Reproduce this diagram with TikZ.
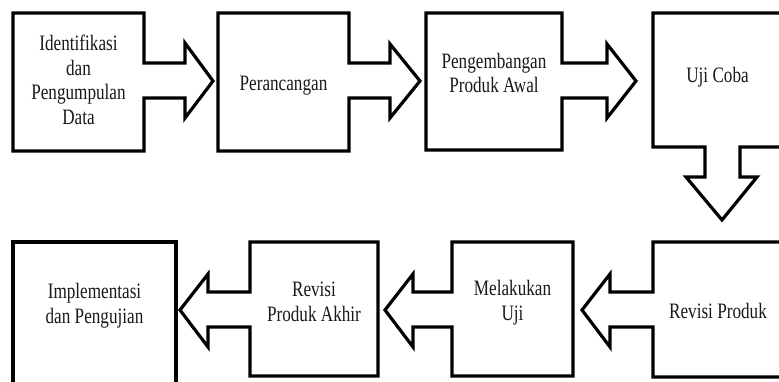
\documentclass[tikz,border=0pt]{standalone}
\usepackage{fontspec}
\newfontfamily\boxfont[FakeStretch=0.78]{Liberation Serif}
\begin{document}
\begin{tikzpicture}[x=1pt,y=-1pt,
  shapeline/.style={draw=black, line width=3.2pt, line join=miter, fill=white},
  boxlabel/.style={align=center, font=\boxfont\fontsize{22}{24.5}\selectfont, text=black!90, inner sep=0pt}]
\useasboundingbox (0,0) rectangle (779,382);
\clip (0,0) rectangle (779,382);
% top row
\draw[shapeline] (13,13) -- (144,13) -- (144,63) -- (185,63) -- (185,43) -- (213,81)
  -- (185,118) -- (185,98) -- (144,98) -- (144,151) -- (13,151) -- cycle;
\draw[shapeline] (218,13) -- (349,13) -- (349,63) -- (390,63) -- (390,44) -- (420,81)
  -- (390,118) -- (390,98) -- (349,98) -- (349,151) -- (218,151) -- cycle;
\draw[shapeline] (426,13) -- (562,13) -- (562,63) -- (607,63) -- (607,44) -- (636,81)
  -- (607,118) -- (607,98) -- (562,98) -- (562,150) -- (426,150) -- cycle;
\draw[shapeline] (653,13) -- (786,13) -- (786,147) -- (740,147) -- (740,177) -- (757,177)
  -- (722,220) -- (686,177) -- (705,177) -- (705,147) -- (653,147) -- cycle;
% bottom row
\draw[shapeline] (13,242) -- (176,242) -- (176,390) -- (13,390) -- cycle;
\draw[shapeline] (378,242) -- (250,242) -- (250,292) -- (208,292) -- (208,274) -- (180,310)
  -- (208,347) -- (208,327) -- (250,327) -- (250,376) -- (378,376) -- cycle;
\draw[shapeline] (573,242) -- (452,242) -- (452,292) -- (413,292) -- (413,274) -- (385,310)
  -- (413,347) -- (413,327) -- (452,327) -- (452,376) -- (573,376) -- cycle;
\draw[shapeline] (786,242) -- (653,242) -- (653,292) -- (610,292) -- (610,274) -- (582,310)
  -- (610,347) -- (610,327) -- (653,327) -- (653,377) -- (786,377) -- cycle;
% labels
\node[boxlabel] (identifikasi) at (78.5,80) {Identifikasi\\dan\\Pengumpulan\\Data};
\node[boxlabel] (perancangan) at (283.5,85.5) {Perancangan};
\node[boxlabel] (pengembangan) at (494,73) {Pengembangan\\Produk Awal};
\node[boxlabel] (ujicoba) at (717.5,77) {Uji Coba};
\node[boxlabel] (implementasi) at (94.5,305.5) {Implementasi\\dan Pengujian};
\node[boxlabel] (revisiakhir) at (314,302) {Revisi\\Produk Akhir};
\node[boxlabel] (melakukan) at (512.5,302.5) {Melakukan\\Uji};
\node[boxlabel] (revisiproduk) at (718,310.5) {Revisi Produk};
\end{tikzpicture}
\end{document}
